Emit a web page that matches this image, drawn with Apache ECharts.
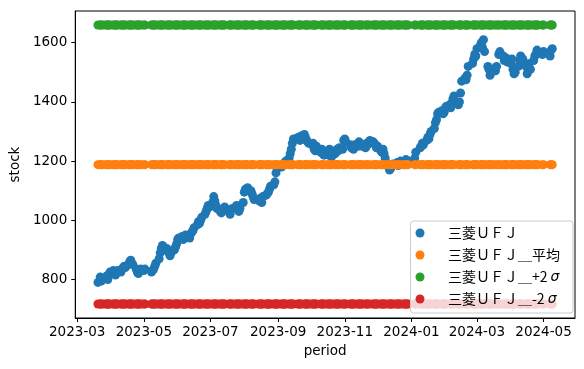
<!DOCTYPE html>
<html><head><meta charset="utf-8">
<script src="https://cdn.jsdelivr.net/npm/echarts@6/dist/echarts.min.js"></script>
<style>html,body{margin:0;padding:0;background:#fff}#c{width:584px;height:369px}</style>
</head><body><div id="c"></div>
<script>
// First Monday of the data; each row below is one week Mon..Fri (null = market closed)
const firstMonday = [2023, 3, 20];
const weeklyStock = [
  [790, null, 808, 795, 800],      // 03-20
  [805, 812, 800, 815, 825],       // 03-27
  [830, 820, 815, 825, 830],       // 04-03
  [825, 835, 840, 845, 840],       // 04-10
  [850, 860, 865, 855, 850],       // 04-17
  [835, 825, 820, 830, 835],       // 04-24
  [830, 835, null, null, null],    // 05-01
  [825, 830, 835, 845, 855],       // 05-08
  [870, 890, 905, 915, 910],       // 05-15
  [905, 895, 890, 880, 890],       // 05-22
  [900, 910, 920, 935, 940],       // 05-29
  [945, 935, 940, 950, 945],       // 06-05
  [940, 955, 960, 965, 975],       // 06-12
  [985, 995, 990, 1000, 1010],     // 06-19
  [1020, 1030, 1040, 1050, 1045],  // 06-26
  [1060, 1080, 1065, 1050, 1040],  // 07-03
  [1030, 1025, 1035, 1040, 1045],  // 07-10
  [null, 1030, 1020, 1035, 1040],  // 07-17
  [1045, 1050, 1040, 1030, 1040],  // 07-24
  [1060, 1095, 1105, 1100, 1110],  // 07-31
  [1100, 1090, 1080, 1070, null],  // 08-07
  [1070, 1065, 1075, 1060, 1080],  // 08-14
  [1085, 1090, 1095, 1105, 1115],  // 08-21
  [1120, 1130, 1160, 1175, 1180],  // 08-28
  [1180, 1185, 1190, 1195, 1200],  // 09-04
  [1210, 1225, 1240, 1260, 1275],  // 09-11
  [null, 1280, 1275, 1270, 1285],  // 09-18
  [1290, 1280, 1270, 1265, 1260],  // 09-25
  [1255, 1260, 1240, 1235, 1250],  // 10-02
  [null, 1230, 1240, 1225, 1220],  // 10-09
  [1230, 1220, 1240, 1235, 1215],  // 10-16
  [1225, 1230, 1240, 1235, 1245],  // 10-23
  [1240, 1270, 1275, 1265, null],  // 10-30
  [1255, 1245, 1250, 1240, 1255],  // 11-06
  [1250, 1265, 1260, 1255, 1250],  // 11-13
  [1245, 1260, 1255, null, 1270],  // 11-20
  [1265, 1260, 1255, 1245, 1250],  // 11-27
  [1235, 1230, 1240, 1225, 1210],  // 12-04
  [1180, 1170, 1175, 1185, 1190],  // 12-11
  [1190, 1195, 1185, 1190, 1200],  // 12-18
  [1195, 1190, 1205, 1200, 1200],  // 12-25
  [null, null, null, 1210, 1230],  // 01-01
  [null, 1245, 1250, 1260, 1255],  // 01-08
  [1270, 1280, 1275, 1290, 1300],  // 01-15
  [1310, 1330, 1340, 1360, 1365],  // 01-22
  [1370, 1360, 1365, 1380, 1385],  // 01-29
  [1390, 1380, 1395, 1410, 1420],  // 02-05
  [null, 1390, 1400, 1430, 1470],  // 02-12
  [1480, 1475, 1490, 1520, null],  // 02-19
  [1530, 1545, 1560, 1555, 1580],  // 02-26
  [1590, 1600, 1585, 1610, 1570],  // 03-04
  [1520, 1510, 1490, 1500, 1510],  // 03-11
  [1505, 1520, null, 1560, 1570],  // 03-18
  [1555, 1540, 1550, 1545, 1535],  // 03-25
  [1530, 1545, 1510, 1495, 1500],  // 04-01
  [1520, 1540, 1555, 1530, 1545],  // 04-08
  [1520, 1495, 1505, 1530, 1510],  // 04-15
  [1540, 1555, 1560, 1575, 1565],  // 04-22
  [null, 1560, 1570, null, null],  // 04-29
  [null, 1555, 1575, 1580, null]   // 05-06
];
const meanValue = 1188;
const plus2Sigma = 1660;
const minus2Sigma = 717;
const seriesNames = ['三菱ＵＦＪ', '三菱ＵＦＪ＿平均', '三菱ＵＦＪ＿+2σ', '三菱ＵＦＪ＿-2σ'];
const seriesColors = ['#1f77b4', '#ff7f0e', '#2ca02c', '#d62728'];
const xTickLabels = ['2023-03', '2023-05', '2023-07', '2023-09', '2023-11', '2024-01', '2024-03', '2024-05'];
const yTickValues = [800, 1000, 1200, 1400, 1600];

const DAY = 86400000;
const t0 = Date.UTC(firstMonday[0], firstMonday[1] - 1, firstMonday[2]);
const stockPts = [];
weeklyStock.forEach((wk, w) => wk.forEach((v, d) => {
  if (v !== null) stockPts.push([t0 + (w * 7 + d) * DAY, v]);
}));
const dates = stockPts.map(p => p[0]);
const first = dates[0], last = dates[dates.length - 1];
const xSpan = last - first;
const xMin = first - 0.05 * xSpan, xMax = last + 0.05 * xSpan;
const ySpan = plus2Sigma - minus2Sigma;
const yMin = minus2Sigma - 0.05 * ySpan, yMax = plus2Sigma + 0.05 * ySpan;
const xTicks = xTickLabels.map(s => { const [y, m] = s.split('-').map(Number); return Date.UTC(y, m - 1, 1); });
const fmt = v => { const d = new Date(v); return d.getUTCFullYear() + '-' + String(d.getUTCMonth() + 1).padStart(2, '0'); };

const tickFont = 'DejaVu Sans';
const chart = echarts.init(document.getElementById('c'), null, {renderer: 'canvas'});
const constSeries = (name, val, color) => ({
  name, type: 'scatter', symbol: 'circle', symbolSize: 9,
  itemStyle: {color, opacity: 1}, data: dates.map(t => [t, val]), silent: true
});
chart.setOption({
  animation: false,
  backgroundColor: '#fff',
  grid: {left: 73, right: 9, top: 11, bottom: 51, show: true, borderColor: '#000', borderWidth: 1, backgroundColor: 'transparent'},
  xAxis: {
    type: 'value', min: xMin, max: xMax,
    axisLine: {show: true, onZero: false, lineStyle: {color: '#000', width: 1}},
    axisTick: {show: true, customValues: xTicks, length: 4, inside: false, lineStyle: {color: '#000'}},
    axisLabel: {customValues: xTicks, formatter: fmt, color: '#000', fontSize: 13.5, fontFamily: tickFont, margin: 7},
    splitLine: {show: false},
    name: 'period', nameLocation: 'middle', nameGap: 26,
    nameTextStyle: {color: '#000', fontSize: 13.5, fontFamily: tickFont}
  },
  yAxis: {
    type: 'value', min: yMin, max: yMax,
    axisLine: {show: true, onZero: false, lineStyle: {color: '#000', width: 1}},
    axisTick: {show: true, customValues: yTickValues, length: 4, lineStyle: {color: '#000'}},
    axisLabel: {customValues: yTickValues, formatter: v => String(v), color: '#000', fontSize: 13.5, fontFamily: tickFont, margin: 8},
    splitLine: {show: false},
    name: 'stock', nameLocation: 'middle', nameGap: 43, nameRotate: 90,
    nameTextStyle: {color: '#000', fontSize: 13.5, fontFamily: tickFont}
  },
  legend: {
    orient: 'vertical', right: 11, bottom: 56,
    backgroundColor: 'rgba(255,255,255,0.8)', borderColor: '#cccccc', borderWidth: 1, borderRadius: 3,
    padding: [5, 13, 7, 5], itemGap: 8, itemWidth: 28, itemHeight: 9, icon: 'circle',
    data: seriesNames,
    formatter: n => n.replace('σ', '{i|σ}'),
    textStyle: {fontSize: 14, lineHeight: 13, color: '#000', fontFamily: 'Noto Sans CJK JP', padding: [0, 0, 0, 9],
      rich: {i: {fontSize: 14, lineHeight: 13, fontStyle: 'italic', fontFamily: 'DejaVu Sans', color: '#000', padding: [0, 0, 0, 3]}}}
  },
  series: [
    {name: seriesNames[0], type: 'scatter', symbol: 'circle', symbolSize: 9, itemStyle: {color: seriesColors[0], opacity: 1}, data: stockPts, silent: true},
    constSeries(seriesNames[1], meanValue, seriesColors[1]),
    constSeries(seriesNames[2], plus2Sigma, seriesColors[2]),
    constSeries(seriesNames[3], minus2Sigma, seriesColors[3])
  ]
});
</script></body></html>
